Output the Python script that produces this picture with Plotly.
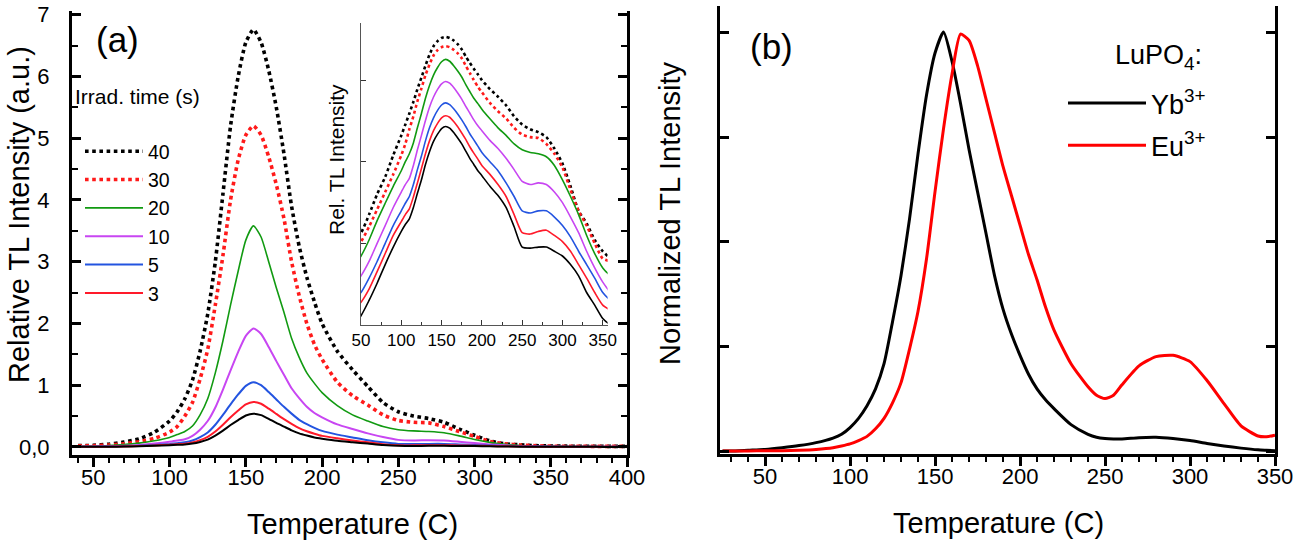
import plotly.graph_objects as go

FONT = "Liberation Sans, Arial, sans-serif"

# ---------------- Panel (a) data ----------------
T_A = [40, 50, 60, 70, 80, 90, 100,
       105, 110, 115, 120, 125, 130, 135, 140, 145, 150, 155, 160, 165, 170,
       175, 180, 185, 190, 195, 200,
       210, 220, 230, 240, 250, 260, 270, 280, 290, 300, 310, 320, 330, 340,
       350, 360, 370, 380, 390, 400]

I_40 = [0.022, 0.027, 0.045, 0.08, 0.13, 0.24, 0.42,
        0.57, 0.78, 1.08, 1.55, 2.15, 3.0, 4.1, 5.2, 6.0, 6.55, 6.76, 6.55, 6.1, 5.5,
        4.75, 3.9, 3.25, 2.75, 2.35, 2.0,
        1.55, 1.25, 0.98, 0.72, 0.57, 0.5, 0.46, 0.4, 0.29, 0.19, 0.1, 0.05, 0.035, 0.022,
        0.016, 0.013, 0.012, 0.011, 0.01, 0.01]
I_30 = [0.017, 0.021, 0.032, 0.052, 0.085, 0.14, 0.24,
        0.33, 0.5, 0.72, 1.1, 1.58, 2.3, 3.1, 4.0, 4.65, 5.05, 5.2, 5.05, 4.7, 4.25,
        3.7, 3.0, 2.45, 2.0, 1.66, 1.42,
        1.05, 0.83, 0.68, 0.52, 0.43, 0.4, 0.39, 0.33, 0.25, 0.17, 0.09, 0.05, 0.033, 0.02,
        0.013, 0.012, 0.011, 0.01, 0.01, 0.009]
I_20 = [0.01, 0.014, 0.022, 0.038, 0.062, 0.1, 0.155,
        0.2, 0.25, 0.34, 0.52, 0.78, 1.2, 1.72, 2.3, 2.85, 3.35, 3.58, 3.4, 3.0, 2.58,
        2.18, 1.76, 1.45, 1.2, 1.03, 0.88,
        0.67, 0.52, 0.42, 0.33, 0.28, 0.26, 0.25, 0.23, 0.18, 0.12, 0.075, 0.045, 0.025, 0.015,
        0.01, 0.008, 0.007, 0.007, 0.006, 0.006]
I_10 = [0.006, 0.008, 0.012, 0.02, 0.033, 0.055, 0.085,
        0.105, 0.125, 0.18, 0.28, 0.42, 0.64, 0.93, 1.24, 1.54, 1.8, 1.92, 1.83, 1.62, 1.39,
        1.17, 0.95, 0.79, 0.65, 0.55, 0.48,
        0.365, 0.29, 0.22, 0.16, 0.115, 0.105, 0.11, 0.105, 0.085, 0.063, 0.042, 0.027, 0.016, 0.01,
        0.0067, 0.005, 0.0045, 0.004, 0.004, 0.004]
I_5 = [0.004, 0.005, 0.0075, 0.012, 0.02, 0.033, 0.05,
       0.062, 0.075, 0.105, 0.16, 0.235, 0.36, 0.52, 0.69, 0.85, 0.99, 1.05, 1.0, 0.89, 0.77,
       0.65, 0.54, 0.44, 0.37, 0.31, 0.26,
       0.2, 0.155, 0.11, 0.075, 0.05, 0.047, 0.05, 0.05, 0.042, 0.033, 0.024, 0.016, 0.011, 0.0075,
       0.005, 0.004, 0.0035, 0.003, 0.003, 0.003]
I_3 = [0.003, 0.0038, 0.0055, 0.009, 0.015, 0.025, 0.037,
       0.045, 0.053, 0.074, 0.11, 0.165, 0.25, 0.36, 0.48, 0.59, 0.69, 0.73, 0.7, 0.62, 0.535,
       0.45, 0.375, 0.305, 0.255, 0.215, 0.18,
       0.14, 0.105, 0.075, 0.045, 0.027, 0.026, 0.028, 0.029, 0.025, 0.021, 0.016, 0.011, 0.0075, 0.005,
       0.0035, 0.003, 0.0025, 0.002, 0.002, 0.002]
I_2 = [0.002, 0.0026, 0.004, 0.0065, 0.011, 0.018, 0.028,
       0.034, 0.04, 0.055, 0.082, 0.12, 0.185, 0.265, 0.355, 0.435, 0.51, 0.54, 0.515, 0.455, 0.39,
       0.33, 0.27, 0.22, 0.185, 0.155, 0.135,
       0.1, 0.077, 0.055, 0.032, 0.018, 0.0175, 0.018, 0.018, 0.016, 0.014, 0.011, 0.008, 0.005, 0.0035,
       0.0024, 0.002, 0.0018, 0.0016, 0.0015, 0.0015]

Y_TICKS_A = [0, 1, 2, 3, 4, 5, 6, 7]
Y_TEXT_A = ["0,0", "1", "2", "3", "4", "5", "6", "7"]
X_TICKS_A = [50, 100, 150, 200, 250, 300, 350, 400]
X_TICKS_IN = [50, 100, 150, 200, 250, 300, 350]
Y_TICKS_IN = [0.002, 0.02, 0.2, 2]

# ---------------- Panel (b) data ----------------
T_B = [25, 30, 40, 50, 60, 70, 80, 90, 95, 100, 105, 110, 115, 120, 125, 130,
       135, 140, 145, 150, 155, 160, 165, 170, 175, 180, 185, 190, 195, 200,
       205, 210, 215, 220, 230, 240, 245, 250, 255, 260, 270, 280, 290, 300,
       310, 320, 330, 340, 345, 350]
YB = [0.002, 0.002, 0.004, 0.006, 0.01, 0.015, 0.022, 0.033, 0.042, 0.058, 0.08, 0.11, 0.15, 0.21, 0.31, 0.42,
      0.555, 0.71, 0.85, 0.95, 1.0, 0.93, 0.83, 0.72, 0.62, 0.52, 0.42, 0.34, 0.28, 0.23,
      0.185, 0.15, 0.124, 0.103, 0.065, 0.042, 0.035, 0.032, 0.031, 0.031, 0.034, 0.035, 0.032, 0.027,
      0.02, 0.014, 0.009, 0.005, 0.004, 0.003]
EU = [0.002, 0.002, 0.002, 0.003, 0.003, 0.004, 0.006, 0.01, 0.014, 0.019, 0.027, 0.037, 0.055, 0.08, 0.117, 0.165,
      0.245, 0.335, 0.46, 0.62, 0.77, 0.9, 0.995, 0.98, 0.92, 0.84, 0.76, 0.68, 0.61, 0.54,
      0.47, 0.41, 0.345, 0.29, 0.21, 0.155, 0.135, 0.127, 0.135, 0.16, 0.205, 0.227, 0.23, 0.215,
      0.17, 0.115, 0.062, 0.038, 0.036, 0.04]
Y_TICKS_B = [0, 0.25, 0.5, 0.75, 1.0]
X_TICKS_B = [50, 100, 150, 200, 250, 300, 350]

# ---------------- figure ----------------
W, H = 1298, 544


def px(x):
    return x / W


def py(y):
    return 1 - y / H


fig = go.Figure()

series = [
    ("40", I_40, "#000000", "dot", 3.6, True),
    ("30", I_30, "#ff1a1a", "dot", 3.6, True),
    ("20", I_20, "#119a11", "solid", 1.6, True),
    ("10", I_10, "#c846f2", "solid", 2.0, True),
    ("5", I_5, "#2354e0", "solid", 2.0, True),
    ("3", I_3, "#ff1a2a", "solid", 2.0, True),
    ("2", I_2, "#000000", "solid", 2.0, False),
]

for name, vals, col, dash, w, leg in series:
    fig.add_trace(go.Scatter(
        x=T_A, y=vals, mode="lines", name=name, showlegend=leg,
        line=dict(color=col, dash=dash, width=w, shape="spline", smoothing=0.6),
        xaxis="x", yaxis="y", legend="legend"))

for name, vals, col, dash, w, leg in series:
    fig.add_trace(go.Scatter(
        x=T_A, y=vals, mode="lines", name=name, showlegend=False,
        line=dict(color=col, dash=dash, width=(2.6 if dash == "dot" else 1.6),
                  shape="spline", smoothing=0.6),
        xaxis="x3", yaxis="y3"))

fig.add_trace(go.Scatter(
    x=T_B, y=YB, mode="lines", name="Yb<sup>3+</sup>",
    line=dict(color="#000000", width=3, shape="spline", smoothing=0.6),
    xaxis="x2", yaxis="y2", legend="legend2", legendgroup="yb"))
fig.add_trace(go.Scatter(
    x=T_B, y=EU, mode="lines", name="Eu<sup>3+</sup>",
    line=dict(color="#ff0000", width=3, shape="spline", smoothing=0.6),
    xaxis="x2", yaxis="y2", legend="legend2", legendgroup="eu"))

tickfont = dict(family=FONT, size=22, color="black")
dom_ax = [px(72), px(627)]
dom_ay = [py(455), py(11)]
dom_bx = [px(720), px(1275)]
dom_by = [py(454), py(6)]
rng_ax = [36, 400]
rng_bx = [23.5, 350]

common_line = dict(showline=True, linecolor="black", linewidth=3, showgrid=False,
                   zeroline=False, automargin=False)


def ann(text, x, y, size, angle=0):
    return dict(text=text, x=px(x), y=py(y), xref="paper", yref="paper", showarrow=False,
                xanchor="center", yanchor="middle", textangle=angle,
                font=dict(family=FONT, size=size, color="black"))


fig.update_layout(
    width=W, height=H,
    margin=dict(l=0, r=0, t=0, b=0, pad=0, autoexpand=False),
    paper_bgcolor="white", plot_bgcolor="rgba(0,0,0,0)",
    font=dict(family=FONT, color="black"),
    # panel (a)
    xaxis=dict(domain=dom_ax, range=rng_ax, anchor="y", tickmode="array", tickvals=X_TICKS_A,
               ticks="outside", ticklen=9, tickwidth=2.5, tickcolor="black", tickfont=tickfont,
               ticklabelstandoff=-8,
               minor=dict(dtick=10, ticks="outside", ticklen=5, tickwidth=2, tickcolor="black"),
               **common_line),
    xaxis5=dict(overlaying="x", side="top", anchor="y", range=rng_ax, tickmode="array", tickvals=X_TICKS_A,
                ticks="inside", ticklen=9, tickwidth=2.5, tickcolor="black", showticklabels=False,
                minor=dict(dtick=10, ticks="inside", ticklen=5, tickwidth=2, tickcolor="black"),
                **common_line),
    yaxis=dict(domain=dom_ay, range=[-0.13, 7.06], anchor="x", tickmode="array", tickvals=Y_TICKS_A,
               ticktext=Y_TEXT_A, ticks="inside", ticklen=9, tickwidth=2.5, tickcolor="black",
               tickfont=tickfont, mirror="ticks", ticklabelstandoff=15, ticklabeloverflow="allow",
               minor=dict(dtick=0.5, ticks="inside", ticklen=6, tickwidth=2, tickcolor="black"),
               **common_line),
    # panel (b)
    xaxis2=dict(domain=dom_bx, range=rng_bx, anchor="y2", tickmode="array", tickvals=X_TICKS_B,
                ticks="outside", ticklen=9, tickwidth=2.5, tickcolor="black", tickfont=tickfont,
                ticklabelstandoff=-8,
                minor=dict(dtick=10, ticks="outside", ticklen=5, tickwidth=2, tickcolor="black"),
                **common_line),
    xaxis6=dict(overlaying="x2", side="top", anchor="y2", range=rng_bx, tickmode="array", tickvals=X_TICKS_B,
                ticks="inside", ticklen=9, tickwidth=2.5, tickcolor="black", showticklabels=False,
                minor=dict(dtick=10, ticks="inside", ticklen=5, tickwidth=2, tickcolor="black"),
                **common_line),
    yaxis2=dict(domain=dom_by, range=[-0.005, 1.062], anchor="x2", tickmode="array", tickvals=Y_TICKS_B,
                ticks="inside", ticklen=9, tickwidth=2.5, tickcolor="black", showticklabels=False,
                mirror="ticks", **common_line),
    # inset
    xaxis3=dict(domain=[px(361), px(607.6)], range=[50, 356], anchor="y3", tickmode="array",
                tickvals=X_TICKS_IN, ticks="inside", ticklen=5, tickwidth=1, tickcolor="#333",
                tickfont=dict(family=FONT, size=17, color="black"),
                minor=dict(dtick=25, ticks="inside", ticklen=3, tickwidth=1, tickcolor="#333"),
                showline=True, linecolor="#555", linewidth=1, showgrid=False, zeroline=False,
                automargin=False),
    yaxis3=dict(domain=[py(325), py(23)], type="log", range=[-2.699, 1.0], anchor="x3",
                tickmode="array", tickvals=Y_TICKS_IN, ticks="inside", ticklen=5, tickwidth=1,
                tickcolor="#333", showticklabels=False,
                showline=True, linecolor="#555", linewidth=1, showgrid=False, zeroline=False,
                automargin=False),
    legend=dict(x=px(80), y=py(132), xanchor="left", yanchor="top", bgcolor="rgba(0,0,0,0)",
                font=dict(family=FONT, size=19.5, color="black"),
                traceorder="normal", itemwidth=58, tracegroupgap=0),
    legend2=dict(x=px(1063), y=py(79), xanchor="left", yanchor="top", bgcolor="rgba(0,0,0,0)",
                 font=dict(family=FONT, size=27, color="black"),
                 traceorder="grouped", itemwidth=78, tracegroupgap=4),
    annotations=[
        ann("(a)", 117, 40, 35),
        ann("(b)", 771, 46, 35),
        ann("Relative TL Intensity (a.u.)", 19, 215, 29, -90),
        ann("Normalized TL Intensity", 670, 213, 29, -90),
        ann("Temperature (C)", 352, 524, 29),
        ann("Temperature (C)", 998, 523, 29),
        ann("Rel. TL Intensity", 336, 160, 21, -90),
        ann("Irrad. time (s)", 137, 96, 21),
        ann("LuPO<sub>4</sub>:", 1158, 57, 27),
    ],
)

# remove the browser's default page margin so the 1298x544 figure fills the window exactly
fig.write_html("out.html", config={"displayModeBar": False},
               post_script="document.body.style.margin='0px';document.body.style.overflow='hidden';")
